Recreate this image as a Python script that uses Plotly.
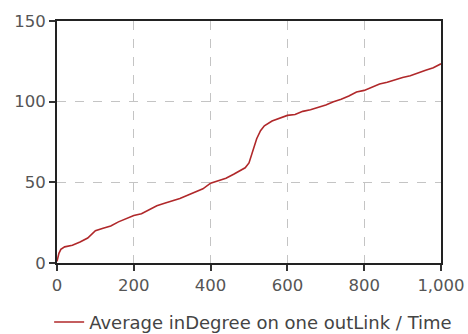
import plotly.graph_objects as go

# Data
time = [0, 5, 10, 20, 40, 60, 80, 100, 120, 140, 160, 180, 200, 220, 240, 260, 280,
        300, 320, 340, 360, 380, 400, 420, 440, 460, 480, 490, 500, 510, 520, 530,
        540, 560, 580, 600, 620, 640, 660, 680, 700, 720, 740, 760, 780, 800, 820,
        840, 860, 880, 900, 920, 940, 960, 980, 1000]
avg_indegree = [1, 6, 8.5, 10, 11, 13, 15.5, 20, 21.5, 23, 25.5, 27.5, 29.5, 30.5, 33,
                35.5, 37, 38.5, 40, 42, 44, 46, 49.5, 51, 52.5, 55, 58, 59, 62, 70, 77,
                82, 85, 88, 90, 91.5, 92, 94, 95, 96.5, 98, 100, 101.5, 103.5, 106, 107,
                109, 111, 112, 113.5, 115, 116, 118, 119.5, 121, 123.5]

x_ticks = [0, 200, 400, 600, 800, 1000]
x_tick_labels = ["0", "200", "400", "600", "800", "1,000"]
y_ticks = [0, 50, 100, 150]
series_name = "Average inDegree on one outLink / Time"

fig = go.Figure()
fig.add_trace(go.Scatter(
    x=time, y=avg_indegree, mode="lines", name=series_name,
    line=dict(color="#b0282a", width=1.6), showlegend=True,
))

axis_common = dict(
    showline=True, linecolor="#222222", linewidth=2, mirror=True,
    ticks="outside", ticklen=6, tickwidth=1.5, tickcolor="#333333",
    showgrid=True, gridcolor="#c4c4c4", gridwidth=1.2, griddash="dash",
    zeroline=False, automargin=False,
    tickfont=dict(family="DejaVu Sans", size=16.5, color="#555555"),
)

fig.update_xaxes(range=[0, 1000], tickvals=x_ticks, ticktext=x_tick_labels, **axis_common)
fig.update_yaxes(range=[0, 150], tickvals=y_ticks, **axis_common)

fig.update_layout(
    width=468, height=334,
    margin=dict(l=57, r=27, t=21, b=71, autoexpand=False),
    paper_bgcolor="white", plot_bgcolor="white",
    font=dict(family="DejaVu Sans", size=16, color="#444444"),
    showlegend=True,
    legend=dict(orientation="h", xref="container", yref="container",
                x=0.105, xanchor="left", y=0.035, yanchor="middle",
                font=dict(size=18, color="#444444"), itemwidth=30),
)

fig.write_html("out.html")
